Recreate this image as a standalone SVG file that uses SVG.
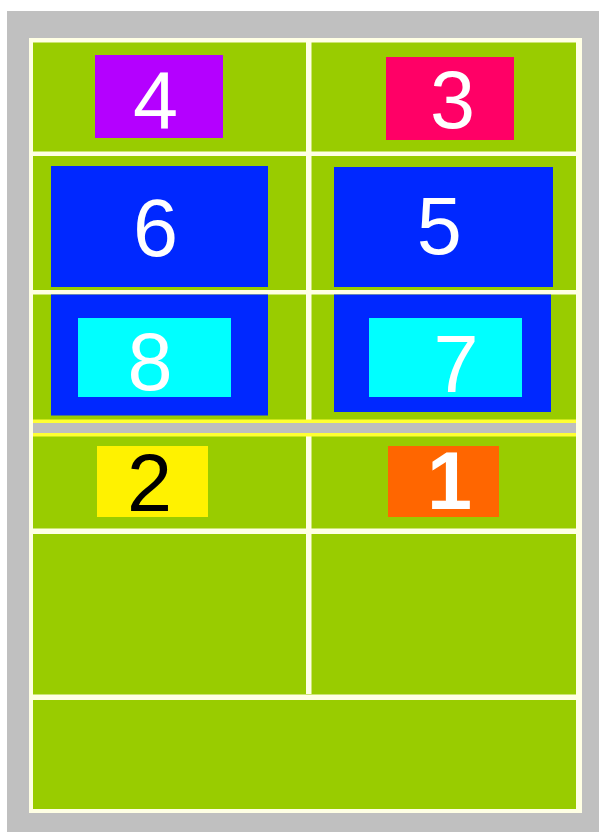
<svg xmlns="http://www.w3.org/2000/svg" width="599" height="832" viewBox="0 0 599 832">
<style>
.ln{fill:#FFFFE4}
.num{font-family:"Liberation Sans",Arial,sans-serif;font-size:81px;text-anchor:middle;fill:#FFFFFF}
.blue{fill:#0028FF}
.cyan{fill:#00FFFF}
</style>
<rect x="0" y="0" width="599" height="832" fill="#FFFFFF"/>
<rect x="7" y="11" width="592" height="821" fill="#C0C0C0"/>
<g id="court">
<rect x="29" y="38" width="553" height="775" class="ln"/>
<rect x="33" y="42.5" width="543" height="766.5" fill="#99CC00"/>
<rect x="306" y="42" width="5.5" height="652" class="ln"/>
<rect x="33" y="151.5" width="543" height="4.5" class="ln"/>
<rect x="33" y="290" width="543" height="4.5" class="ln"/>
<rect x="33" y="528.5" width="543" height="5.5" class="ln"/>
<rect x="33" y="694.5" width="543" height="5.5" class="ln"/>
</g>
<g id="net">
<rect x="33" y="419.5" width="543" height="17" fill="#FFFF33"/>
<rect x="33" y="423" width="543" height="10" fill="#BEBEBE"/>
</g>
<g id="n4">
<rect x="95" y="55" width="128" height="83" fill="#B400FF"/>
<text x="155.5" y="128.5" class="num">4</text>
</g>
<g id="n3">
<rect x="386" y="57" width="128" height="83" fill="#FF0066"/>
<text x="452.5" y="127.5" class="num">3</text>
</g>
<g id="n6">
<rect x="51" y="166" width="217" height="121" class="blue"/>
<text x="155.5" y="255.7" class="num">6</text>
</g>
<g id="n5">
<rect x="334" y="167" width="219" height="120" class="blue"/>
<text x="439.2" y="254.2" class="num">5</text>
</g>
<g id="n8">
<rect x="51" y="294.5" width="217" height="121" class="blue"/>
<rect x="78" y="318" width="153" height="79" class="cyan"/>
<text x="150" y="389.7" class="num">8</text>
</g>
<g id="n7">
<rect x="334" y="294.5" width="217" height="117.5" class="blue"/>
<rect x="369" y="318" width="153" height="79" class="cyan"/>
<text x="456" y="391.5" class="num">7</text>
</g>
<g id="n2">
<rect x="97" y="446" width="111" height="71" fill="#FFF200"/>
<text x="149.5" y="510.7" class="num" fill="#000000" style="fill:#000000">2</text>
</g>
<g id="n1">
<rect x="388" y="446" width="111" height="71" fill="#FF6600"/>
<text x="449.5" y="508.5" class="num" font-weight="bold">1</text>
</g>
<g id="connectors"></g>
</svg>
